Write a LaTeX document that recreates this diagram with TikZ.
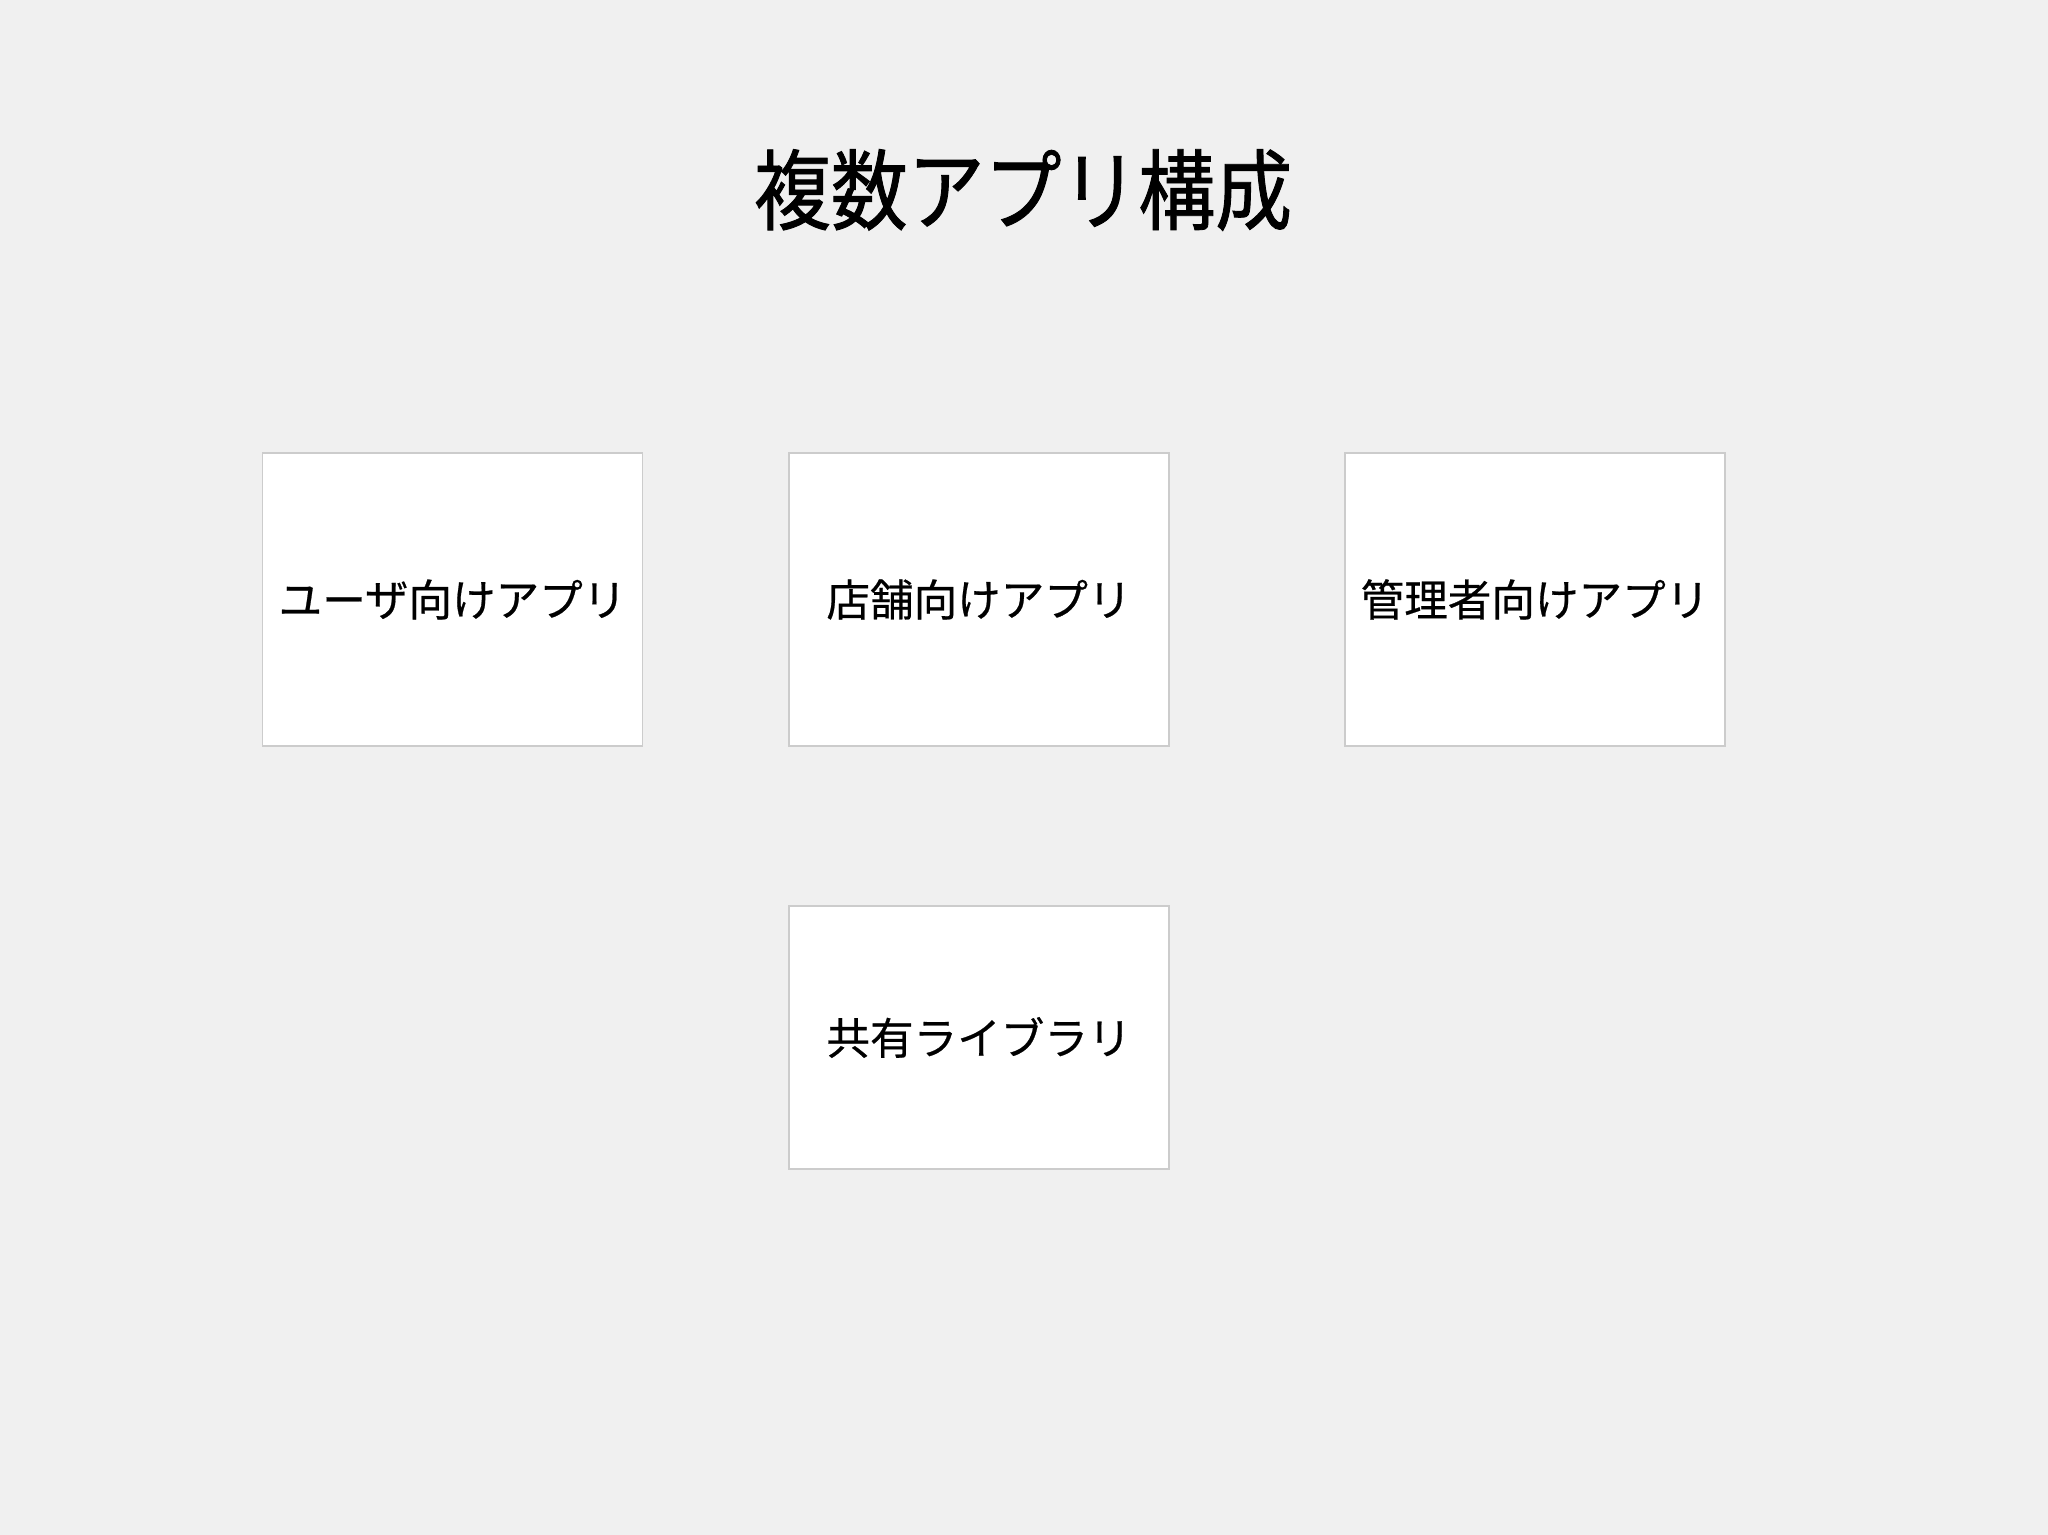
\documentclass[tikz,border=0pt]{standalone}
\usepackage{fontspec}
\newfontfamily\cjk[FakeBold=0.5]{Noto Sans CJK JP}
\newfontfamily\cjktitle[FakeStretch=0.875,FakeBold=1]{Noto Sans CJK JP}
\definecolor{lightgrey}{HTML}{F0F0F0}
\definecolor{boxgrey}{HTML}{CCCCCC}

\begin{document}
\begin{tikzpicture}[every node/.style={inner sep=0pt,font=\cjk\fontsize{12.4pt}{15pt}\selectfont},
    appbox/.style={draw=boxgrey,line width=0.5pt,fill=white,minimum width=3.8cm,minimum height=2.93cm}]
      \fill[lightgrey] (0,0) rectangle (20.48,15.35);
      \useasboundingbox (0,0) rectangle (20.48,15.35);
      \draw
        (10.23,13.45) node[font=\cjktitle\fontsize{25pt}{30pt}\selectfont] (title) {複数アプリ構成};
      \draw
        (4.525,9.355) node[appbox] (user) {ユーザ向けアプリ}
        (9.79,9.355) node[appbox] (shop) {店舗向けアプリ}
        (15.35,9.355) node[appbox] (admin) {管理者向けアプリ};
      \draw
        (9.79,4.975) node[appbox,minimum height=2.63cm] (lib) {共有ライブラリ};
    \end{tikzpicture}
\end{document}
